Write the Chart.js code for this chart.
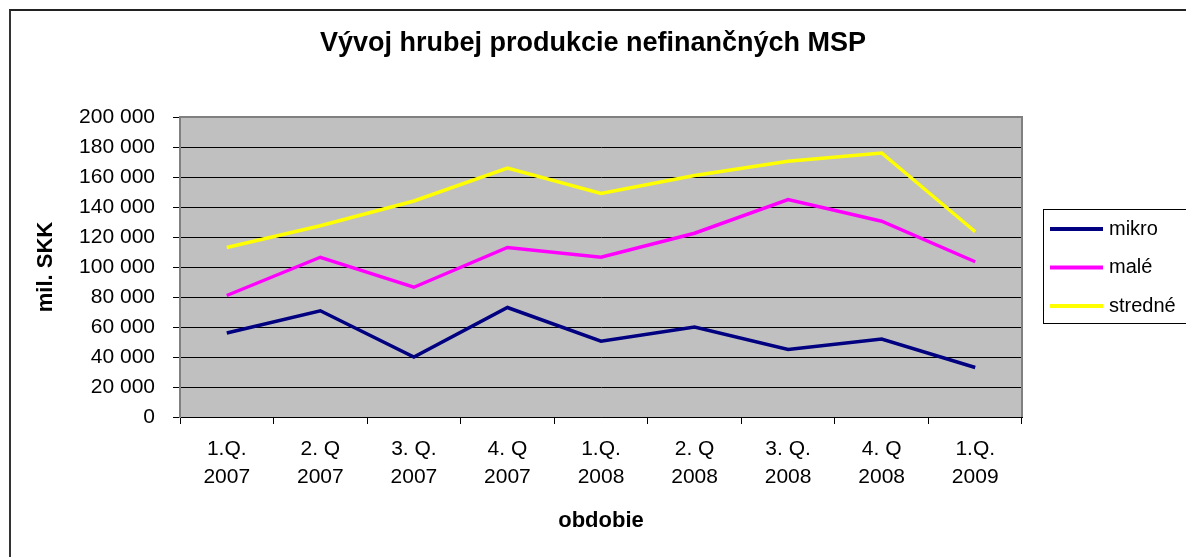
<!DOCTYPE html>
<html>
<head>
<meta charset="utf-8">
<script src="https://cdn.jsdelivr.net/npm/chart.js@4/dist/chart.umd.min.js"></script>
<style>
  html, body { margin: 0; padding: 0; background: #fff; }
  #wrap { position: relative; width: 1186px; height: 557px; overflow: hidden; }
  #frame { position: absolute; left: 9px; top: 9px; width: 1200px; height: 600px; border-left: 2px solid #333; border-top: 2px solid #222; }
  #chart { position: absolute; left: 0; top: 0; }
</style>
</head>
<body>
<div id="wrap">
  <div id="frame"></div>
  <canvas id="chart" width="1186" height="557"></canvas>
</div>
<script>
const quarters = [['1.Q.', '2007'], ['2. Q', '2007'], ['3. Q.', '2007'], ['4. Q', '2007'],
                  ['1.Q.', '2008'], ['2. Q', '2008'], ['3. Q.', '2008'], ['4. Q', '2008'], ['1.Q.', '2009']];
const mikro = [56000, 70800, 40000, 73000, 50500, 60000, 45000, 52000, 33000];
const male = [81000, 106500, 86500, 113000, 106500, 122500, 145000, 130500, 103500];
const stredne = [113000, 127500, 144000, 166000, 149000, 161000, 170500, 176000, 123500];

const FONT = "'Liberation Sans', Arial, sans-serif";
Chart.defaults.font.family = FONT;
Chart.defaults.color = '#000';

// grey plot background with a thin border
const plotBg = {
    id: 'plotBg',
    beforeDraw(chart) {
        const { ctx, chartArea: a } = chart;
        ctx.save();
        ctx.fillStyle = '#c0c0c0';
        ctx.fillRect(a.left, a.top, a.right - a.left, a.bottom - a.top);
        ctx.restore();
    },
    beforeDatasetsDraw(chart) {
        const { ctx, chartArea: a } = chart;
        ctx.save();
        ctx.strokeStyle = '#808080';
        ctx.lineWidth = 2;
        ctx.beginPath();
        ctx.moveTo(a.left, a.bottom);
        ctx.lineTo(a.left, a.top);
        ctx.lineTo(a.right, a.top);
        ctx.lineTo(a.right, a.bottom);
        ctx.stroke();
        ctx.restore();
    }
};

// boxed legend at the right, like the spreadsheet original
const boxLegend = {
    id: 'boxLegend',
    afterDraw(chart) {
        const ctx = chart.ctx;
        ctx.save();
        ctx.fillStyle = '#fff';
        ctx.fillRect(1043.5, 209.5, 200, 114);
        ctx.strokeStyle = '#000';
        ctx.lineWidth = 1;
        ctx.strokeRect(1043.5, 209.5, 200, 114);
        ctx.font = '20px ' + FONT;
        ctx.textBaseline = 'middle';
        chart.data.datasets.forEach((ds, i) => {
            const y = 229 + i * 38.5;
            ctx.strokeStyle = ds.borderColor;
            ctx.lineWidth = 4;
            ctx.beginPath();
            ctx.moveTo(1050, y);
            ctx.lineTo(1103, y);
            ctx.stroke();
            ctx.fillStyle = '#000';
            ctx.fillText(ds.label, 1109, y);
        });
        ctx.restore();
    }
};

new Chart(document.getElementById('chart').getContext('2d'), {
    type: 'line',
    data: {
        labels: quarters,
        datasets: [
            { label: 'mikro', data: mikro, borderColor: '#000080' },
            { label: 'malé', data: male, borderColor: '#ff00ff' },
            { label: 'stredné', data: stredne, borderColor: '#ffff00' }
        ]
    },
    options: {
        responsive: false,
        animation: false,
        layout: { padding: 0 },
        elements: {
            line: { borderWidth: 3.5, tension: 0 },
            point: { radius: 0 }
        },
        scales: {
            x: {
                offset: true,
                grid: { offset: true, drawOnChartArea: false, drawTicks: true, tickLength: 7, color: '#000' },
                border: { color: '#000', width: 1 },
                ticks: { font: { size: 21, lineHeight: 1.333 }, padding: 11, maxRotation: 0, autoSkip: false },
                title: { display: true, text: 'obdobie', font: { size: 22, weight: 'bold', lineHeight: 1.2 }, padding: { top: 0, bottom: 23 } },
                afterFit(scale) { scale.height = 140; }
            },
            y: {
                min: 0,
                max: 200000,
                grid: { color: '#000', tickLength: 7 },
                border: { color: '#808080', width: 2 },
                ticks: {
                    stepSize: 20000,
                    padding: 18,
                    font: { size: 21 },
                    callback: v => String(v).replace(/\B(?=(\d{3})+(?!\d))/g, ' ')
                },
                title: { display: true, text: 'mil. SKK', font: { size: 22, weight: 'bold', lineHeight: 1.2 }, padding: { top: 33, bottom: 0 } },
                afterFit(scale) { scale.width = 180; }
            },
            // empty right-hand scale that only reserves room for the legend
            side: {
                position: 'right',
                display: true,
                grid: { display: false },
                border: { display: false },
                ticks: { display: false },
                afterFit(scale) { scale.width = 164; }
            }
        },
        plugins: {
            legend: { display: false },
            tooltip: { enabled: false },
            title: {
                display: true,
                text: 'Vývoj hrubej produkcie nefinančných MSP',
                font: { size: 27, weight: 'bold', lineHeight: 1.2 },
                padding: { top: 27, bottom: 57.6 }
            }
        }
    },
    plugins: [plotBg, boxLegend]
});
</script>
</body>
</html>
